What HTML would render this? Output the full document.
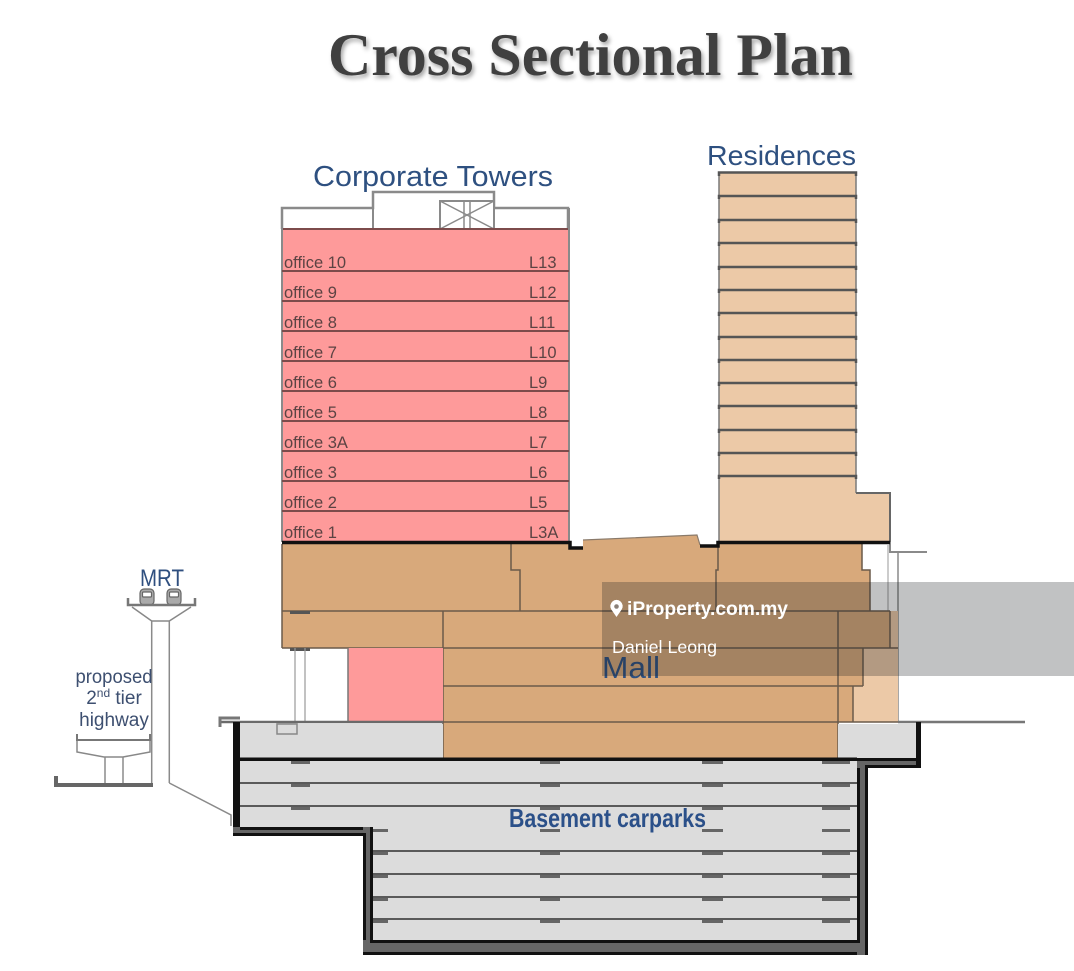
<!DOCTYPE html>
<html><head><meta charset="utf-8">
<style>
html,body{margin:0;padding:0;background:#fff;}
svg{display:block}
</style></head>
<body>
<svg width="1074" height="971" viewBox="0 0 1074 971" xmlns="http://www.w3.org/2000/svg">
<defs>
<filter id="sh" x="-5%" y="-20%" width="110%" height="160%">
<feDropShadow dx="2" dy="3" stdDeviation="2" flood-color="#000" flood-opacity="0.35"/>
</filter>
</defs>
<rect width="1074" height="971" fill="#fff"/>

<!-- Title -->
<text x="328" y="75" font-family="'Liberation Serif', serif" font-weight="bold" font-size="60" fill="#404040" textLength="525" lengthAdjust="spacingAndGlyphs" filter="url(#sh)">Cross Sectional Plan</text>

<!-- Labels -->
<text x="313" y="186" font-family="'Liberation Sans', sans-serif" font-size="29" fill="#2e5080" textLength="240" lengthAdjust="spacingAndGlyphs">Corporate Towers</text>
<text x="707" y="165" font-family="'Liberation Sans', sans-serif" font-size="28" fill="#2e5080" textLength="149" lengthAdjust="spacingAndGlyphs">Residences</text>

<!-- Corporate tower roof -->
<path d="M282,229 V208 H373 V192 H494 V208 H568 V229" fill="#fff" stroke="#8a8a8a" stroke-width="2.5"/>
<line x1="373" y1="208" x2="373" y2="229" stroke="#8a8a8a" stroke-width="2"/>
<line x1="494" y1="208" x2="494" y2="229" stroke="#8a8a8a" stroke-width="2"/>
<rect x="440" y="201" width="54" height="28" fill="#fff" stroke="#8a8a8a" stroke-width="2"/>
<line x1="440" y1="201" x2="494" y2="229" stroke="#8a8a8a" stroke-width="1.5"/>
<line x1="440" y1="229" x2="494" y2="201" stroke="#8a8a8a" stroke-width="1.5"/>
<line x1="464" y1="201" x2="464" y2="229" stroke="#8a8a8a" stroke-width="1.5"/>
<line x1="470" y1="201" x2="470" y2="229" stroke="#8a8a8a" stroke-width="1.5"/>

<!-- Pink tower -->
<rect x="282" y="229" width="287" height="313" fill="#fe9a9a"/>
<line x1="282" y1="229" x2="569" y2="229" stroke="#7d4b4b" stroke-width="2"/>
<line x1="282" y1="208" x2="282" y2="542" stroke="#8a8a8a" stroke-width="2"/>
<line x1="569" y1="208" x2="569" y2="542" stroke="#8a8a8a" stroke-width="2"/>
<g stroke="#7d4b4b" stroke-width="2">
<line x1="282" y1="271" x2="569" y2="271"/>
<line x1="282" y1="301" x2="569" y2="301"/>
<line x1="282" y1="331" x2="569" y2="331"/>
<line x1="282" y1="361" x2="569" y2="361"/>
<line x1="282" y1="391" x2="569" y2="391"/>
<line x1="282" y1="421" x2="569" y2="421"/>
<line x1="282" y1="451" x2="569" y2="451"/>
<line x1="282" y1="481" x2="569" y2="481"/>
<line x1="282" y1="511" x2="569" y2="511"/>
</g>
<g font-family="'Liberation Sans', sans-serif" font-size="16.5" fill="#5c4343">
<text x="284" y="268">office 10</text><text x="529" y="268">L13</text>
<text x="284" y="298">office 9</text><text x="529" y="298">L12</text>
<text x="284" y="328">office 8</text><text x="529" y="328">L11</text>
<text x="284" y="358">office 7</text><text x="529" y="358">L10</text>
<text x="284" y="388">office 6</text><text x="529" y="388">L9</text>
<text x="284" y="418">office 5</text><text x="529" y="418">L8</text>
<text x="284" y="448">office 3A</text><text x="529" y="448">L7</text>
<text x="284" y="478">office 3</text><text x="529" y="478">L6</text>
<text x="284" y="508">office 2</text><text x="529" y="508">L5</text>
<text x="284" y="538">office 1</text><text x="529" y="538">L3A</text>
</g>

<!-- Residences tower -->
<rect x="719" y="172" width="137" height="321" fill="#ecc9a7"/>
<rect x="719" y="493" width="171" height="49" fill="#ecc9a7"/>
<line x1="719" y1="172" x2="719" y2="542" stroke="#7a7a7a" stroke-width="1.5"/>
<line x1="856" y1="172" x2="856" y2="493" stroke="#7a7a7a" stroke-width="1.5"/>
<path d="M856,493 H890 V542" fill="none" stroke="#666" stroke-width="2"/>
<g fill="none" stroke="#555" stroke-width="2.5">
<path d="M719,176 V172.5 H856 V176"/>
<path d="M719,199 V196 H856 V199"/>
<path d="M719,223 V220 H856 V223"/>
<path d="M719,246 V243 H856 V246"/>
<path d="M719,270 V267 H856 V270"/>
<path d="M719,293 V290 H856 V293"/>
<path d="M719,316 V313 H856 V316"/>
<path d="M719,340 V337 H856 V340"/>
<path d="M719,363 V360 H856 V363"/>
<path d="M719,386 V383 H856 V386"/>
<path d="M719,409 V406 H856 V409"/>
<path d="M719,433 V430 H856 V433"/>
<path d="M719,456 V453 H856 V456"/>
<path d="M719,479 V476 H856 V479"/>
</g>

<!-- Right side thin lines -->
<path d="M890,542 V552 H927" fill="none" stroke="#8a8a8a" stroke-width="2"/>
<line x1="898" y1="552" x2="898" y2="722" stroke="#8a8a8a" stroke-width="1.5"/>
<line x1="888" y1="545" x2="888" y2="611" stroke="#9a9a9a" stroke-width="1"/>

<!-- Mall -->
<path d="M282,544 L570,544 L570,548 L583,548 L583,540 L697,535 L700,545 L718,545 L718,542 L862,542 L862,570 L870,570 L870,611 L282,611 Z" fill="#d8a97b"/>
<path d="M583,540 L697,535 L700,545" fill="none" stroke="#8a7a6a" stroke-width="1.2"/>
<rect x="282" y="611" width="608" height="37" fill="#d8a97b"/>
<rect x="890" y="611" width="8" height="37" fill="#ecc9a7"/>
<rect x="443" y="648" width="395" height="110" fill="#d8a97b"/>
<rect x="838" y="648" width="60" height="74" fill="#ecc9a7"/>
<rect x="838" y="648" width="25" height="38" fill="#d8a97b"/>
<rect x="838" y="686" width="15" height="36" fill="#d8a97b"/>
<g stroke="#6a5a4a" stroke-width="1.5" fill="none">
<line x1="282" y1="544" x2="282" y2="648"/>
<path d="M511,544 V570 H520 V611"/>
<path d="M718,544 V570 H716 V611"/>
<path d="M862,544 V570 H870 V611"/>
<line x1="282" y1="611" x2="890" y2="611"/>
<line x1="282" y1="648" x2="898" y2="648"/>
<line x1="443" y1="686" x2="863" y2="686"/>
<line x1="443" y1="722" x2="898" y2="722"/>
<line x1="443" y1="611" x2="443" y2="758"/>
<line x1="838" y1="611" x2="838" y2="758"/>
<line x1="890" y1="611" x2="890" y2="648"/>
<line x1="863" y1="648" x2="863" y2="686"/>
<line x1="853" y1="686" x2="853" y2="722"/>
</g>
<g fill="#555">
<rect x="290" y="611" width="20" height="3"/>
<rect x="290" y="648" width="20" height="3"/>
</g>

<!-- Black lines at tower base -->
<path d="M282,542.5 H570 V548 H583" fill="none" stroke="#111" stroke-width="3.5"/>
<path d="M700,546 H718 V542.5 H890" fill="none" stroke="#111" stroke-width="3.5"/>

<!-- Left lower white + pink -->
<rect x="348" y="648" width="95" height="74" fill="#fe9a9a"/>
<line x1="348" y1="648" x2="348" y2="722" stroke="#777" stroke-width="1.5"/>
<line x1="295" y1="648" x2="295" y2="722" stroke="#999" stroke-width="1.2"/>
<line x1="305" y1="648" x2="305" y2="722" stroke="#999" stroke-width="1.2"/>

<!-- Mall label -->
<text x="602" y="678" font-family="'Liberation Sans', sans-serif" font-size="31" fill="#2e5080" textLength="58" lengthAdjust="spacingAndGlyphs">Mall</text>

<!-- B1 level -->
<rect x="240" y="724" width="203" height="35" fill="#dcdcdc"/>
<rect x="838" y="724" width="78" height="35" fill="#dcdcdc"/>
<line x1="220" y1="722" x2="443" y2="722" stroke="#6a6a6a" stroke-width="2.5"/>
<path d="M220,727 V718 H240" fill="none" stroke="#777" stroke-width="3"/>
<rect x="277" y="724" width="20" height="10" fill="none" stroke="#888" stroke-width="1.5"/>
<line x1="898" y1="722" x2="1025" y2="722" stroke="#777" stroke-width="2.5"/>

<!-- Basement -->
<path d="M240,760 L857,760 L857,940 L372,940 L372,828 L240,828 Z" fill="#dcdcdc"/>
<g stroke="#5a5a5a" stroke-width="2">
<line x1="240" y1="783" x2="857" y2="783"/>
<line x1="240" y1="806" x2="857" y2="806"/>
<line x1="372" y1="851" x2="857" y2="851"/>
<line x1="372" y1="874" x2="857" y2="874"/>
<line x1="372" y1="897" x2="857" y2="897"/>
<line x1="372" y1="919" x2="857" y2="919"/>
</g>
<g fill="#666">
<rect x="291" y="761" width="19" height="3"/><rect x="540" y="761" width="20" height="3"/><rect x="702" y="761" width="21" height="3"/><rect x="822" y="761" width="28" height="3"/>
<rect x="291" y="784" width="19" height="3"/><rect x="540" y="784" width="20" height="3"/><rect x="702" y="784" width="21" height="3"/><rect x="822" y="784" width="28" height="3"/>
<rect x="291" y="807" width="19" height="3"/><rect x="540" y="807" width="20" height="3"/><rect x="702" y="807" width="21" height="3"/><rect x="822" y="807" width="28" height="3"/>
<rect x="373" y="829" width="15" height="3"/><rect x="540" y="829" width="20" height="3"/><rect x="702" y="829" width="21" height="3"/><rect x="822" y="829" width="28" height="3"/>
<rect x="373" y="852" width="15" height="3"/><rect x="540" y="852" width="20" height="3"/><rect x="702" y="852" width="21" height="3"/><rect x="822" y="852" width="28" height="3"/>
<rect x="373" y="875" width="15" height="3"/><rect x="540" y="875" width="20" height="3"/><rect x="702" y="875" width="21" height="3"/><rect x="822" y="875" width="28" height="3"/>
<rect x="373" y="898" width="15" height="3"/><rect x="540" y="898" width="20" height="3"/><rect x="702" y="898" width="21" height="3"/><rect x="822" y="898" width="28" height="3"/>
<rect x="373" y="920" width="15" height="3"/><rect x="540" y="920" width="20" height="3"/><rect x="702" y="920" width="21" height="3"/><rect x="822" y="920" width="28" height="3"/>
</g>

<!-- Mall bottom black -->
<rect x="240" y="757.5" width="617" height="3.5" fill="#111"/>

<!-- Walls -->
<rect x="233" y="722" width="7" height="114" fill="#111"/>
<rect x="233" y="827" width="140" height="9" fill="#666"/>
<rect x="240" y="827" width="133" height="3" fill="#111"/>
<rect x="233" y="833" width="131" height="3" fill="#111"/>
<rect x="363" y="827" width="10" height="128" fill="#666"/>
<rect x="370" y="827" width="3" height="116" fill="#111"/>
<rect x="363" y="833" width="3" height="122" fill="#111"/>
<rect x="363" y="940" width="505" height="15" fill="#666"/>
<rect x="370" y="940" width="490" height="3" fill="#111"/>
<rect x="363" y="952" width="505" height="3" fill="#111"/>
<rect x="857" y="758" width="11" height="197" fill="#666"/>
<rect x="857" y="758" width="3" height="185" fill="#111"/>
<rect x="865" y="765" width="3" height="190" fill="#111"/>
<rect x="857" y="758" width="64" height="10" fill="#666"/>
<rect x="838" y="758" width="83" height="3" fill="#111"/>
<rect x="865" y="765" width="56" height="3" fill="#111"/>
<rect x="916" y="722" width="5" height="46" fill="#111"/>

<!-- Basement label -->
<text x="509" y="827" font-family="'Liberation Sans', sans-serif" font-weight="bold" font-size="26" fill="#2b5089" textLength="197" lengthAdjust="spacingAndGlyphs">Basement carparks</text>

<!-- MRT -->
<text x="140" y="586" font-family="'Liberation Sans', sans-serif" font-size="24" fill="#2f4f7f" textLength="44" lengthAdjust="spacingAndGlyphs">MRT</text>
<g stroke="#666" stroke-width="1.2">
<rect x="140" y="589" width="14" height="16" rx="4" fill="#aaa"/>
<rect x="142.5" y="592" width="9" height="5" rx="1" fill="#fff"/>
<rect x="167" y="589" width="14" height="16" rx="4" fill="#aaa"/>
<rect x="169.5" y="592" width="9" height="5" rx="1" fill="#fff"/>
</g>
<path d="M128,598 V605 H195 V598" fill="none" stroke="#777" stroke-width="2.5"/>
<path d="M132,607 L151.7,621 L169.3,621 L191,607" fill="#fff" stroke="#888" stroke-width="1.5"/>
<line x1="151.7" y1="621" x2="151.7" y2="783" stroke="#8a8a8a" stroke-width="1.5"/>
<line x1="169.3" y1="621" x2="169.3" y2="783" stroke="#8a8a8a" stroke-width="1.5"/>
<path d="M169.3,783 L231,815 V826" fill="none" stroke="#8a8a8a" stroke-width="1.5"/>

<!-- Highway -->
<g font-family="'Liberation Sans', sans-serif" font-size="19" fill="#3d4f70" text-anchor="middle">
<text x="114" y="683" textLength="77" lengthAdjust="spacingAndGlyphs">proposed</text>
<text x="114" y="704">2<tspan font-size="12" dy="-7">nd</tspan><tspan dy="7"> tier</tspan></text>
<text x="114" y="726">highway</text>
</g>
<path d="M77,734 V740 H150 V734" fill="none" stroke="#777" stroke-width="2"/>
<path d="M77,741 V752 L104,757 L123,757 L150,752 V741" fill="#fff" stroke="#888" stroke-width="1.5"/>
<line x1="105" y1="757" x2="105" y2="783" stroke="#8a8a8a" stroke-width="1.5"/>
<line x1="123" y1="757" x2="123" y2="783" stroke="#8a8a8a" stroke-width="1.5"/>
<path d="M56,776 V785 H153" fill="none" stroke="#666" stroke-width="4"/>

<!-- Watermark -->
<rect x="602" y="582" width="472" height="94" fill="rgba(25,30,35,0.27)"/>
<path d="M616.5,617 L611.3,609.5 A6.2,6.2 0 1 1 621.7,609.5 Z" fill="#fff"/>
<circle cx="616.5" cy="606.5" r="2.3" fill="#8a8078"/>
<text x="627" y="615" font-family="'Liberation Sans', sans-serif" font-weight="bold" font-size="19" fill="#fff" textLength="161" lengthAdjust="spacingAndGlyphs">iProperty.com.my</text>
<text x="612" y="653" font-family="'Liberation Sans', sans-serif" font-size="17.5" fill="#fff" textLength="105" lengthAdjust="spacingAndGlyphs">Daniel Leong</text>
</svg>
</body></html>
